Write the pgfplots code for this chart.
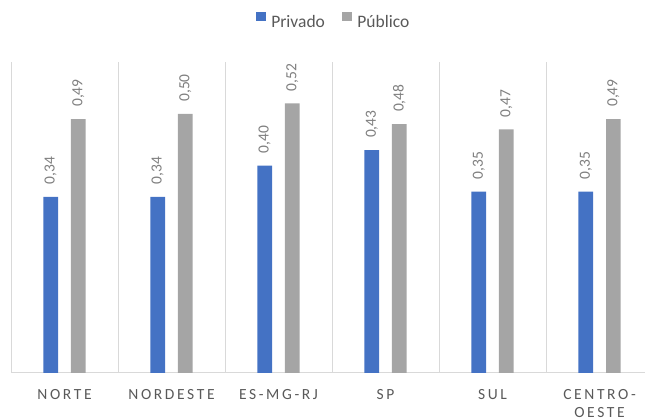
\documentclass[border=0pt]{standalone}
\usepackage{fontspec}
\setmainfont{Carlito}
\newfontfamily\spaced[LetterSpace=17]{Carlito}
\usepackage{pgfplots}
\pgfplotsset{compat=1.18}
\definecolor{priv}{HTML}{4472C4}
\definecolor{pub}{HTML}{A5A5A5}
\definecolor{gridc}{HTML}{D9D9D9}
\definecolor{txt}{HTML}{595959}
\definecolor{lbl}{HTML}{7F7F7F}
\begin{document}
\begin{tikzpicture}
\path[use as bounding box] (0pt,0pt) rectangle (645pt,419pt);
\begin{axis}[
  at={(11pt,46pt)}, anchor=south west,
  scale only axis, width=634pt, height=311pt,
  xmin=-0.5, xmax=5.425, ymin=0, ymax=0.6,
  enlargelimits=false,
  ybar, bar width=0.137,
  axis y line=none, axis x line=bottom,
  x axis line style={-, draw=gridc, line width=1pt},
  xtick={0,1,2,3,4,5},
  xticklabels={NORTE,NORDESTE,ES-MG-RJ,SP,SUL,{CENTRO-\\OESTE}},
  major tick length=0pt, minor tick length=0pt,
  minor xtick={-0.5,0.5,1.5,2.5,3.5,4.5},
  xminorgrids, minor grid style={draw=gridc, line width=0.9pt},
  ytick=\empty,
  xticklabel style={font=\spaced\fontsize{15.5}{18}\selectfont, text=txt, align=center, inner sep=0pt, yshift=-16pt},
  nodes near coords={\pgfmathprintnumber[fixed,fixed zerofill,precision=2,use comma,assume math mode=true]{\pgfplotspointmeta}},
  every node near coord/.append style={rotate=90, anchor=west, font=\fontsize{15.5}{18}\selectfont, text=lbl, inner xsep=12pt, inner ysep=0pt},
  legend style={at={(0.512,1.13)}, anchor=center, draw=none, fill=none, legend columns=2,
    font=\fontsize{17.5}{20}\selectfont, text=txt,
    nodes={inner xsep=5.5pt},
    /tikz/every even column/.append style={column sep=12pt}},
  legend image code/.code={\fill[#1] (0pt,1pt) rectangle (9.5pt,10.5pt);},
]
\addplot[fill=priv, draw=none, bar shift=-0.129] coordinates {(0,0.34) (1,0.34) (2,0.40) (3,0.43) (4,0.35) (5,0.35)};
\addplot[fill=pub, draw=none, bar shift=0.129] coordinates {(0,0.49) (1,0.50) (2,0.52) (3,0.48) (4,0.47) (5,0.49)};
\legend{Privado,Público}
\end{axis}
\end{tikzpicture}
\end{document}
